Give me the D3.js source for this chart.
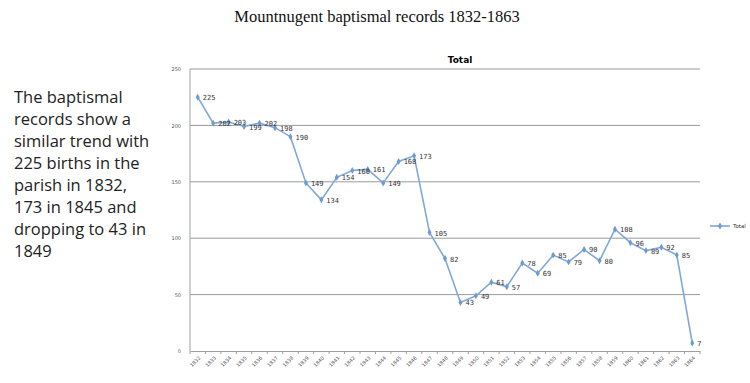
<!DOCTYPE html>
<html>
<head>
<meta charset="utf-8">
<script src="https://cdn.jsdelivr.net/npm/d3@7"></script>
<style>
  body { margin: 0; background: #fff; }
  svg { display: block; }
  .grid line { stroke: #9a9a9a; stroke-width: 1; }
  .axis path, .axis line { stroke: #a0a0a0; }
  .axis text { fill: #555; font-family: "DejaVu Sans", sans-serif; font-size: 5px; }
  .pt-label { fill: #333; font-family: "DejaVu Sans Mono", monospace; font-size: 7px; }
</style>
</head>
<body>
<div id="chart"></div>
<script>
// Baptisms per year, Mountnugent parish
var years = ['1832','1833','1834','1835','1836','1837','1838','1839','1840','1841','1842',
             '1843','1844','1845','1846','1847','1848','1849','1850','1851','1852','1853',
             '1854','1855','1856','1857','1858','1859','1860','1861','1862','1863','1864'];
var totals = [225, 202, 203, 199, 202, 198, 190, 149, 134, 154, 160,
              161, 149, 168, 173, 105, 82, 43, 49, 61, 57, 78,
              69, 85, 79, 90, 80, 108, 96, 89, 92, 85, 7];
var yTicks = [0, 50, 100, 150, 200, 250];
var noteLines = ['The baptismal', 'records show a', 'similar trend with', '225 births in the',
                 'parish in 1832,', '173 in 1845 and', 'dropping to 43 in', '1849'];

var width = 750, height = 383;
var margin = { top: 69, right: 50, bottom: 32, left: 190 };

var svg = d3.select('#chart')
  .append('svg')
    .attr('width', width)
    .attr('height', height);

// Page title
svg.append('text')
  .attr('x', 377)
  .attr('y', 22)
  .attr('text-anchor', 'middle')
  .style('font-family', '"Liberation Serif", serif')
  .style('font-size', '16.5px')
  .style('fill', '#111')
  .text('Mountnugent baptismal records 1832-1863');

// Side note
svg.append('text')
  .attr('x', 14)
  .attr('y', 103)
  .style('font-family', '"Open Sans", sans-serif')
  .style('font-size', '16.5px')
  .style('fill', '#222')
  .selectAll('tspan')
  .data(noteLines)
  .enter()
    .append('tspan')
      .attr('x', 14)
      .attr('dy', function(d, i){ return i === 0 ? 0 : 22; })
      .text(function(d){ return d; });

var x = d3.scaleBand()
  .domain(years)
  .range([margin.left, width - margin.right]);

var y = d3.scaleLinear()
  .domain([0, 250])
  .range([height - margin.bottom, margin.top]);

// Gridlines
svg.append('g')
  .attr('class', 'grid')
  .selectAll('line')
  .data(yTicks.slice(1))
  .enter()
    .append('line')
      .attr('x1', margin.left)
      .attr('x2', width - margin.right)
      .attr('y1', function(d){ return y(d); })
      .attr('y2', function(d){ return y(d); });

// Chart title
svg.append('text')
  .attr('x', 460)
  .attr('y', 63)
  .attr('text-anchor', 'middle')
  .style('font-family', '"DejaVu Sans", sans-serif')
  .style('font-size', '9px')
  .style('font-weight', 'bold')
  .text('Total');

// Y axis
var yAxis = svg.append('g')
  .attr('class', 'axis')
  .attr('transform', 'translate(' + margin.left + ',0)')
  .call(d3.axisLeft(y).tickValues(yTicks).tickSize(0).tickPadding(9));
yAxis.select('.domain').attr('d', 'M0,' + y(0) + 'V' + y(250));

// X axis with ticks on band edges
var xAxis = svg.append('g')
  .attr('class', 'axis')
  .attr('transform', 'translate(0,' + y(0) + ')')
  .call(d3.axisBottom(x).tickSize(0));
xAxis.selectAll('.tick text')
  .attr('x', 0)
  .attr('y', 0)
  .attr('dy', '0.35em')
  .attr('text-anchor', 'end')
  .attr('transform', 'translate(2,6) rotate(-45)');
xAxis.selectAll('.edge')
  .data(years.concat(['end']))
  .enter()
    .append('line')
      .attr('class', 'edge')
      .attr('x1', function(d, i){ return margin.left + i * x.step(); })
      .attr('x2', function(d, i){ return margin.left + i * x.step(); })
      .attr('y1', 0)
      .attr('y2', 3);

var cx = function(d, i){ return x(years[i]) + x.bandwidth() / 2; };

// Line
var line = d3.line()
  .x(cx)
  .y(function(d){ return y(d); });

svg.append('path')
  .datum(totals)
  .attr('fill', 'none')
  .attr('stroke', '#7ea8d8')
  .attr('stroke-width', 1.6)
  .attr('d', line);

// Markers
var diamond = d3.symbol().type(d3.symbolDiamond).size(14);
svg.selectAll('.marker')
  .data(totals)
  .enter()
    .append('path')
      .attr('class', 'marker')
      .attr('d', diamond)
      .attr('fill', '#6d9bd2')
      .attr('transform', function(d, i){ return 'translate(' + cx(d, i) + ',' + y(d) + ')'; });

// Data labels
svg.selectAll('.pt-label')
  .data(totals)
  .enter()
    .append('text')
      .attr('class', 'pt-label')
      .attr('x', function(d, i){ return cx(d, i) + 5; })
      .attr('y', function(d){ return y(d) + 3; })
      .text(function(d){ return d; });

// Legend
svg.append('line')
  .attr('x1', 710).attr('x2', 730)
  .attr('y1', 226).attr('y2', 226)
  .attr('stroke', '#7ea8d8')
  .attr('stroke-width', 1.6);
svg.append('path')
  .attr('d', diamond)
  .attr('fill', '#6d9bd2')
  .attr('transform', 'translate(720,226)');
svg.append('text')
  .attr('x', 733)
  .attr('y', 228)
  .style('font-family', '"DejaVu Sans", sans-serif')
  .style('font-size', '5.5px')
  .style('fill', '#333')
  .text('Total');
</script>
</body>
</html>
